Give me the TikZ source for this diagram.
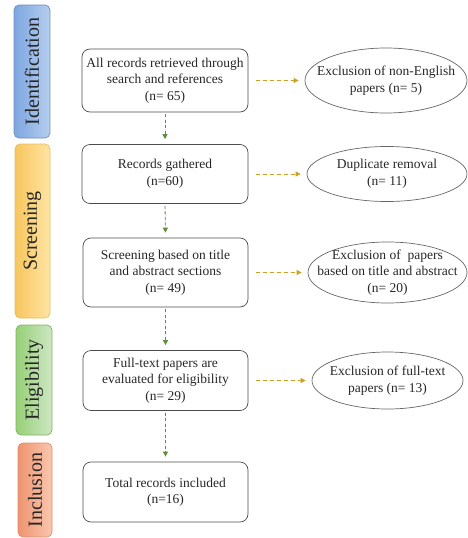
\documentclass[tikz,border=0pt]{standalone}
\usepackage{fontspec}
\setmainfont{Liberation Serif}
\usepackage{tikz}
\usetikzlibrary{shapes.geometric,arrows.meta}
\definecolor{IdLine}{HTML}{6C8EBF}
\definecolor{IdTop}{HTML}{B5CEEF}
\definecolor{IdBot}{HTML}{7EA6E0}
\definecolor{ScLine}{HTML}{E3C060}
\definecolor{ScTop}{HTML}{FFE4A3}
\definecolor{ScBot}{HTML}{F7C65E}
\definecolor{ElLine}{HTML}{82B366}
\definecolor{ElTop}{HTML}{CDE7C4}
\definecolor{ElBot}{HTML}{97D077}
\definecolor{InLine}{HTML}{DD8E6C}
\definecolor{InTop}{HTML}{FAC7AF}
\definecolor{InBot}{HTML}{EE9470}
\definecolor{Side}{HTML}{C9A227}
\definecolor{Down}{HTML}{5E8E3E}
\tikzstyle{none}=[inner sep=0pt, align=center, text=black!85, font=\fontsize{13.5}{16.5}\selectfont]
\tikzstyle{phase}=[rotate=90, rounded corners=5pt, line width=0.7pt, inner sep=0pt, text=black!85, font=\fontsize{20}{22}\selectfont]
\tikzstyle{box}=[draw=black!70, line width=0.7pt, rounded corners=8pt, minimum width=166pt, inner sep=0pt, align=center, text=black!85, font=\fontsize{13.5}{16.5}\selectfont]
\tikzstyle{oval}=[ellipse, draw=black!60, line width=0.7pt, inner sep=0pt]
\tikzstyle{side}=[-{Triangle[length=5pt,width=5pt]}, draw=Side, fill=Side, line width=0.8pt, dash pattern=on 4pt off 3pt, shorten <=8pt, shorten >=6pt]
\tikzstyle{down}=[-{Triangle[length=5pt,width=5pt]}, draw=Down, fill=Down, line width=0.8pt, dash pattern=on 3pt off 2.5pt, shorten <=2pt, shorten >=5pt]

\begin{document}
\begin{tikzpicture}[x=1pt, y=-1pt]
  \useasboundingbox (0,0) rectangle (467,538);
  \node [style=phase, draw=IdLine, left color=IdBot, right color=IdTop, minimum width=133pt, minimum height=36pt] (10) at (32, 71.5) {Identification};
  \node [style=phase, draw=ScLine, left color=ScBot, right color=ScTop, minimum width=174pt, minimum height=35pt] (11) at (32.5, 231) {Screening};
  \node [style=phase, draw=ElLine, left color=ElBot, right color=ElTop, minimum width=110pt, minimum height=36pt] (12) at (34, 380) {Eligibility};
  \node [style=phase, draw=InLine, left color=InBot, right color=InTop, minimum width=94pt, minimum height=34pt] (13) at (35, 490) {Inclusion};
  \node [style=box, minimum height=63pt] (0) at (165, 80.5) {All records retrieved through\\search and references\\(n= 65)};
  \node [style=box, minimum height=59pt] (1) at (165, 174) {Records gathered\\(n=60)};
  \node [style=box, minimum height=69pt, minimum width=165pt] (2) at (165.5, 272.5) {Screening based on title\\and abstract sections\\(n= 49)};
  \node [style=box, minimum height=60pt, minimum width=165pt] (3) at (165.5, 380.5) {Full-text papers are\\evaluated for eligibility\\(n= 29)};
  \node [style=box, minimum height=60pt, minimum width=165pt] (4) at (165.5, 492) {Total records included\\(n=16)};
  \node [style=oval, minimum width=162pt, minimum height=65pt] (5) at (386, 80.5) {};
  \node [style=oval, minimum width=160pt, minimum height=55pt] (6) at (387, 174) {};
  \node [style=oval, minimum width=159pt, minimum height=61pt] (7) at (387.5, 272.5) {};
  \node [style=oval, minimum width=151pt, minimum height=57pt] (8) at (387.5, 380.5) {};
  \node [style=none] (14) at (5) {Exclusion of non-English\\papers (n= 5)};
  \node [style=none] (15) at (6) {Duplicate removal\\(n= 11)};
  \node [style=none] (16) at (7) {Exclusion of\ \ papers\\based on title and abstract\\(n= 20)};
  \node [style=none] (17) at (8) {Exclusion of full-text\\papers (n= 13)};
  \draw [style=side] (0.east) to (5.west);
  \draw [style=side] (1.east) to (6.west);
  \draw [style=side] (2.east) to (7.west);
  \draw [style=side] (3.east) to (8.west);
  \draw [style=down] (0.south) to (1.north);
  \draw [style=down] (1.south) to (2.north);
  \draw [style=down] (2.south) to (3.north);
  \draw [style=down] (3.south) to (4.north);
\end{tikzpicture}
\end{document}
